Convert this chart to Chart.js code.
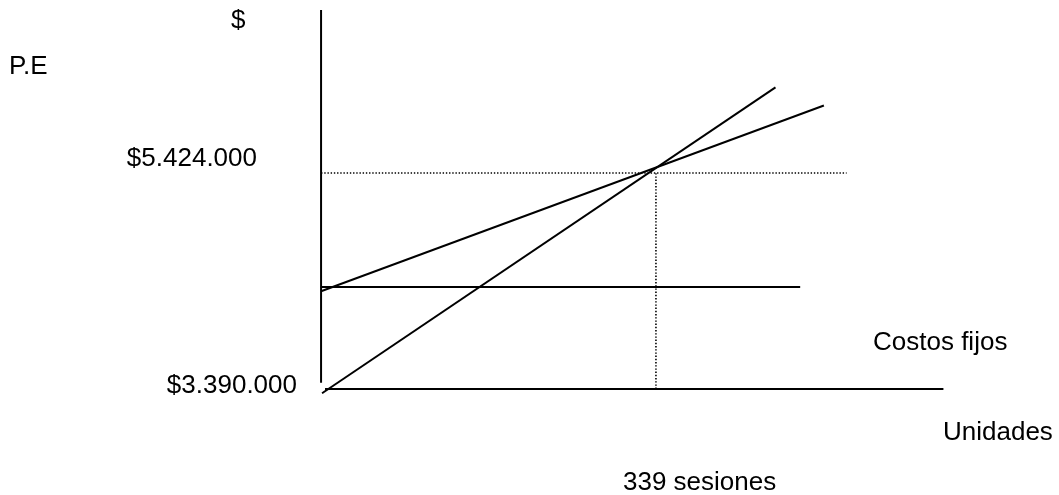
<!DOCTYPE html>
<html>
<head>
<meta charset="utf-8">
<script src="https://cdn.jsdelivr.net/npm/chart.js@4/dist/chart.umd.min.js"></script>
<style>
  html, body { margin: 0; padding: 0; background: #fff; }
  #wrap { width: 1059px; height: 495px; }
</style>
</head>
<body>
<div id="wrap"><canvas id="chart" width="1059" height="495"></canvas></div>
<script>
// units (sesiones) on x, millions of $ on y
const breakEvenUnits = 339;
const breakEvenSales = 5.424;
const baseSales = 3.39;

const totalCostX = [0, 509];
const totalCostY = [4.31, 6.06];
const revenueX = [1, 460];
const revenueY = [3.35, 6.23];
const fixedCostX = [0, 485];
const fixedCostY = [4.35, 4.35];
const axisX = [4, 630];
const axisYTop = 6.96;
const axisYBottom = 3.45;
const guideEndX = 532;

const labels = {
  dollar: '$',
  pe: 'P.E',
  topValue: '$5.424.000',
  bottomValue: '$3.390.000',
  fixed: 'Costos fijos',
  units: 'Unidades',
  sessions: '339 sesiones'
};

const pts = (xs, ys) => xs.map((x, i) => ({ x: x, y: ys[i] }));

const solid = { borderColor: '#000', borderWidth: 2, pointRadius: 0, showLine: true, fill: false };
const dotted = { borderColor: '#000', borderWidth: 1.6, borderDash: [1.4, 1.8], pointRadius: 0, showLine: true, fill: false };

// plain text labels placed on the canvas
const textPlugin = {
  id: 'texts',
  afterDraw(chart) {
    const ctx = chart.ctx;
    ctx.save();
    ctx.fillStyle = '#000';
    ctx.font = '26px "Liberation Sans", Arial, sans-serif';
    ctx.textBaseline = 'middle';
    const put = (t, x, y, align) => { ctx.textAlign = align; ctx.fillText(t, x, y); };
    put(labels.dollar, 231, 21, 'left');
    put(labels.pe, 9, 67, 'left');
    put(labels.topValue, 257, 159, 'right');
    put(labels.bottomValue, 297, 386, 'right');
    put(labels.fixed, 873, 343, 'left');
    put(labels.units, 943, 433, 'left');
    put(labels.sessions, 623, 483, 'left');
    ctx.restore();
  }
};

new Chart(document.getElementById('chart'), {
  type: 'scatter',
  data: {
    datasets: [
      { ...solid, data: [{ x: 0, y: axisYBottom }, { x: 0, y: axisYTop }] },
      { ...solid, data: pts(axisX, [baseSales, baseSales]) },
      { ...solid, data: pts(fixedCostX, fixedCostY) },
      { ...solid, data: pts(totalCostX, totalCostY) },
      { ...solid, data: pts(revenueX, revenueY) },
      { ...dotted, data: [{ x: 0, y: breakEvenSales }, { x: guideEndX, y: breakEvenSales }] },
      { ...dotted, data: [{ x: breakEvenUnits, y: baseSales }, { x: breakEvenUnits, y: breakEvenSales }] }
    ]
  },
  options: {
    responsive: false,
    animation: false,
    layout: { padding: 0 },
    plugins: { legend: { display: false }, tooltip: { enabled: false } },
    scales: {
      x: { type: 'linear', display: false, min: -325, max: 747 },
      y: { type: 'linear', display: false, min: 2.392, max: 7.053 }
    }
  },
  plugins: [textPlugin]
});
</script>
</body>
</html>
